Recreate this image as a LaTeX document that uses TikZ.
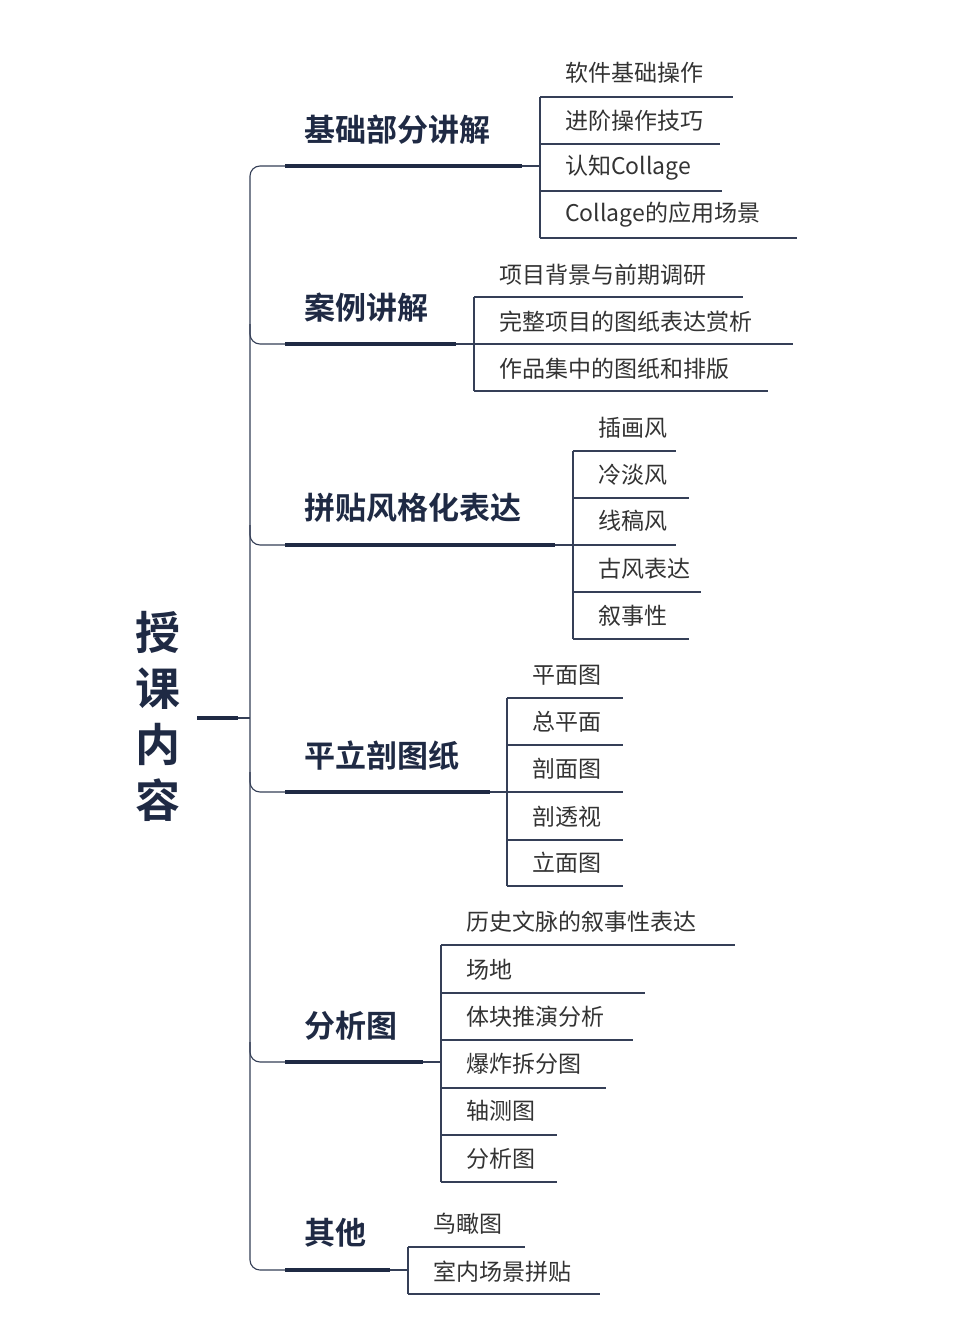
\documentclass[tikz,border=0pt]{standalone}
\usepackage{fontspec}
\newfontfamily\cjk{Noto Sans CJK SC}
\newfontfamily\cjkb{Noto Sans CJK SC Bold}
\definecolor{navy}{HTML}{1F2A44}
\definecolor{leafc}{HTML}{333333}
\tikzset{
  leaf/.style={anchor=west,inner sep=0pt,font=\cjk\fontsize{23}{23}\selectfont,text=leafc},
  branchlbl/.style={anchor=west,inner sep=0pt,font=\cjkb\fontsize{31}{31}\selectfont,text=navy},
  thinline/.style={draw=navy!90,line width=1.1pt},
  thickline/.style={draw=navy,line width=4pt},
}
\begin{document}
\begin{tikzpicture}[x=1pt,y=-1pt]
\useasboundingbox[fill=white] (0,0) rectangle (959,1327);
% root
\node[inner sep=0pt,font=\cjkb\fontsize{45}{56}\selectfont,text=navy,align=center] (root) at (158,716) {授\\课\\内\\容};
\coordinate (rb1) at (197,718); \coordinate (rb2) at (238,718);
\draw[thickline] (rb1) -- (rb2);
\coordinate (tj) at (250,718);
\draw[thinline] (rb2) -- (tj);
% trunk
\coordinate (t1) at (285,166); \coordinate (t6) at (285,1270);
\draw[thinline,rounded corners=10pt] (t1) -- (250,166) -- (250,1270) -- (t6);
\foreach \y in {344,545,792,1062}{
  \draw[thinline,rounded corners=10pt] (250,\y-20) -- (250,\y) -- (285,\y);
}
% branches: name, label, text y, line y, line end, vertical x, top y, bottom y, text x, leaves
\newcommand\branch[9]{%
  \node[branchlbl] (b#1) at (304,#3) {#2};
  \coordinate (bs#1) at (285,#4); \coordinate (be#1) at (#5,#4);
  \draw[thickline] (bs#1) -- (be#1);
  \coordinate (vt#1) at (#6,#7); \coordinate (vb#1) at (#6,#8);
  \draw[thinline] (be#1) -- (#6,#4);
  \draw[thinline] (vt#1) -- (vb#1);
  \foreach \ty/\ly/\lx/\txt [count=\i] in {#9}{
    \node[leaf] (l#1\i) at (#6+25,\ty) {\txt};
    \draw[thinline] (#6,\ly) -- (\lx,\ly);
  }
}
\branch{a}{基础部分讲解}{130}{166}{522}{540}{97}{238}{73/97/733/软件基础操作,121/144/720/进阶操作技巧,168/191/722/认知Collage,215/238/797/Collage的应用场景}
\branch{b}{案例讲解}{308}{344}{456}{474}{297}{391}{275/297/743/项目背景与前期调研,322/344/793/完整项目的图纸表达赏析,369/391/768/作品集中的图纸和排版}
\branch{c}{拼贴风格化表达}{508}{545}{555}{573}{451}{639}{428/451/676/插画风,475/498/689/冷淡风,521/545/676/线稿风,569/592/701/古风表达,616/639/689/叙事性}
\branch{d}{平立剖图纸}{756}{792}{490}{507}{698}{886}{675/698/623/平面图,722/745/623/总平面,769/792/623/剖面图,817/840/623/剖透视,863/886/623/立面图}
\branch{e}{分析图}{1026}{1062}{423}{441}{945}{1182}{922/945/735/历史文脉的叙事性表达,970/993/645/场地/区位分析,1017/1040/633/体块推演分析,1064/1088/606/爆炸拆分图,1111/1135/557/轴测图,1159/1182/557/分析图}
\branch{f}{其他}{1233}{1270}{390}{408}{1247}{1294}{1224/1247/525/鸟瞰图,1272/1294/600/室内场景拼贴}
\end{tikzpicture}
\end{document}
